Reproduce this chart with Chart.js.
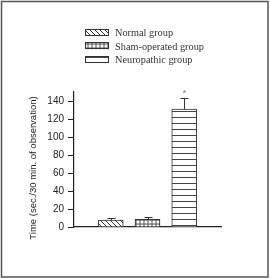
<!DOCTYPE html>
<html>
<head>
<meta charset="utf-8">
<script src="https://cdn.jsdelivr.net/npm/chart.js@4"></script>
<style>
  html, body { margin: 0; padding: 0; background: #fff; }
  #wrap { position: absolute; left: 0; top: 0; width: 270px; height: 279px; }
</style>
</head>
<body>
<div id="wrap"><canvas id="myChart" width="270" height="279"></canvas></div>
<script>
"use strict";

// données du graphe
const categories = ["", "Normal group", "Sham-operated group", "Neuropathic group", ""];
const means = [null, 7.8, 8.5, 131, null];
const errors = [null, 2.2, 2.5, 12.3, null];
const significant = [false, false, false, true, false];
const yTicks = [0, 20, 40, 60, 80, 100, 120, 140];
const yTitle = "Time (sec./30 min. of observation)";

// motifs de remplissage
function makePattern(kind) {
  const c = document.createElement("canvas");
  const g = c.getContext("2d");
  if (kind === "diag") {
    c.width = 5; c.height = 5;
    g.fillStyle = "#fff"; g.fillRect(0, 0, 5, 5);
    g.strokeStyle = "#333"; g.lineWidth = 1;
    g.beginPath();
    g.moveTo(-1, -1); g.lineTo(6, 6);
    g.moveTo(-1, 4); g.lineTo(1, 6);
    g.moveTo(4, -1); g.lineTo(6, 1);
    g.stroke();
  } else if (kind === "dots") {
    c.width = 4; c.height = 4;
    g.fillStyle = "#7a7a7a"; g.fillRect(0, 0, 4, 4);
    g.fillStyle = "#fff";
    g.beginPath(); g.arc(2, 2, 1.5, 0, Math.PI * 2); g.fill();
  } else {
    c.width = 6; c.height = 6;
    g.fillStyle = "#fff"; g.fillRect(0, 0, 6, 6);
    g.fillStyle = "#444"; g.fillRect(0, 3, 6, 1);
  }
  return g.createPattern(c, "repeat");
}

const patterns = [null, makePattern("diag"), makePattern("dots"), makePattern("lines"), null];

// barres d'erreur + étoile + légende + cadre
const extras = {
  id: "extras",
  afterDatasetsDraw(chart) {
    const ctx = chart.ctx;
    const x = chart.scales.x;
    const y = chart.scales.y;
    ctx.save();
    ctx.strokeStyle = "#333";
    ctx.lineWidth = 1;
    means.forEach((m, i) => {
      if (m === null) return;
      const px = Math.round(x.getPixelForValue(i)) + 0.5;
      const top = y.getPixelForValue(m);
      const hi = y.getPixelForValue(m + errors[i]);
      ctx.beginPath();
      ctx.moveTo(px, top);
      ctx.lineTo(px, hi);
      ctx.moveTo(px - 4, Math.round(hi) + 0.5);
      ctx.lineTo(px + 4, Math.round(hi) + 0.5);
      ctx.stroke();
      if (significant[i]) {
        ctx.fillStyle = "#777";
        ctx.font = "9px 'Liberation Sans'";
        ctx.textAlign = "center";
        ctx.textBaseline = "middle";
        ctx.fillText("*", px, hi - 5);
      }
    });
    ctx.restore();
  },
  afterDraw(chart) {
    const ctx = chart.ctx;
    ctx.save();
    // titre axe y
    ctx.translate(33, 168);
    ctx.rotate(-Math.PI / 2);
    ctx.fillStyle = "#222";
    ctx.font = "9.5px 'Liberation Sans'";
    ctx.textAlign = "center";
    ctx.textBaseline = "middle";
    ctx.fillText(yTitle, 0, 0);
    ctx.restore();

    // légende
    ctx.save();
    ctx.font = "10.3px 'Liberation Serif'";
    ctx.textBaseline = "middle";
    ctx.textAlign = "left";
    for (let i = 1; i <= 3; i++) {
      const top = 29 + (i - 1) * 13.3;
      ctx.fillStyle = patterns[i];
      ctx.fillRect(85, top, 24, 7);
      ctx.strokeStyle = "#333";
      ctx.lineWidth = 1;
      ctx.strokeRect(85.5, Math.round(top) + 0.5, 23, 6);
      ctx.fillStyle = "#333";
      ctx.fillText(categories[i], 115, top + 4.5);
    }
    ctx.restore();

    // cadre
    ctx.save();
    ctx.strokeStyle = "#555";
    ctx.lineWidth = 1.5;
    ctx.strokeRect(1.5, 1.5, 266.5, 275.5);
    ctx.restore();
  }
};

const ctx = document.getElementById("myChart").getContext("2d");
const myChart = new Chart(ctx, {
  type: "bar",
  data: {
    labels: categories,
    datasets: [{
      data: means,
      backgroundColor: patterns,
      borderColor: "#333",
      borderWidth: 1,
      barThickness: 25
    }]
  },
  options: {
    responsive: false,
    animation: false,
    layout: { padding: { left: 0, top: 92, right: 49, bottom: 52 } },
    plugins: {
      legend: { display: false },
      tooltip: { enabled: false }
    },
    scales: {
      x: {
        offset: false,
        grid: { display: false },
        ticks: { display: false },
        border: { color: "#222", width: 1.2 },
        afterFit: (s) => { s.height = 0; }
      },
      y: {
        min: 0,
        max: 150,
        afterBuildTicks: (s) => { s.ticks = yTicks.map((v) => ({ value: v })); },
        afterFit: (s) => { s.width = 74; },
        grid: { drawOnChartArea: false, tickLength: 6, color: "#222" },
        border: { color: "#222", width: 1.2 },
        ticks: {
          padding: 4,
          color: "#222",
          font: { family: "'Liberation Sans'", size: 10 }
        }
      }
    }
  },
  plugins: [extras]
});
</script>
</body>
</html>
